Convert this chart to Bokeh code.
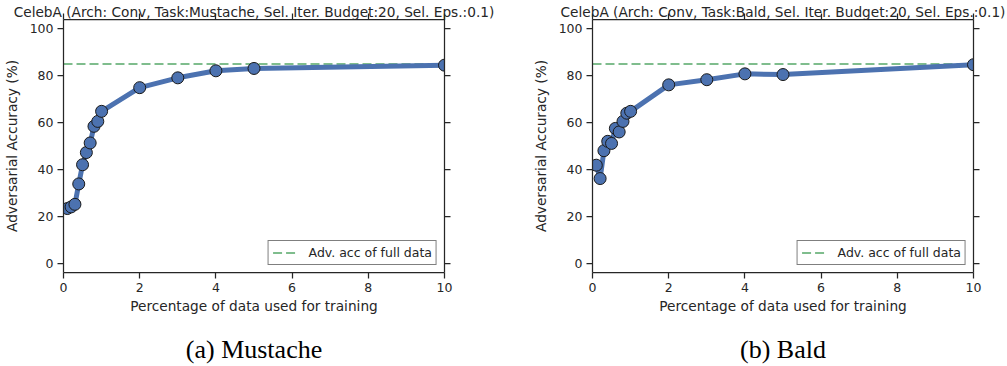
from bokeh.plotting import figure
from bokeh.layouts import row
from bokeh.models import (LinearAxis, FixedTicker, Range1d,
                          CustomLabelingPolicy)
from bokeh.embed import file_html
from bokeh.resources import INLINE

# Percentage of the training set used for each run
pct_data = [0.1, 0.2, 0.3, 0.4, 0.5, 0.6, 0.7, 0.8, 0.9, 1.0, 2, 3, 4, 5, 10]

# Adversarial accuracy (%) per attribute task
mustache_acc = [23.3, 24.0, 25.1, 33.8, 42.0, 47.2, 51.3, 58.4, 60.5, 64.8,
                74.9, 79.1, 82.1, 83.1, 84.5]
bald_acc = [41.8, 36.1, 48.0, 52.0, 51.1, 57.5, 56.0, 60.5, 64.0, 64.8,
            76.1, 78.3, 80.8, 80.5, 84.7]

# Adversarial accuracy when training on the full data set
mustache_full_acc = 85.0
bald_full_acc = 85.0

x_limits = [0, 10]
y_limits = [-4, 104]
x_ticks = [0, 2, 4, 6, 8, 10]
y_ticks = [0, 20, 40, 60, 80, 100]

panel_titles = [
    "CelebA (Arch: Conv, Task:Mustache, Sel. Iter. Budget:20, Sel. Eps.:0.1)",
    "CelebA (Arch: Conv, Task:Bald, Sel. Iter. Budget:20, Sel. Eps.:0.1)",
]
captions = ["(a) Mustache", "(b) Bald"]
legend_text = "Adv. acc of full data"
x_label = "Percentage of data used for training"
y_label = "Adversarial Accuracy (%)"

INK = "#262626"
BLUE = "#4C72B0"
GREEN = "#55A868"
FONT = "DejaVu Sans"

FIG_H = 366
FRAME_W = 381
BORDER_TOP = 19
BORDER_BOTTOM = 93

NO_LABELS = "return new Set()"


def style_axis(ax, ticks, show_labels):
    ax.ticker = FixedTicker(ticks=ticks)
    ax.minor_tick_line_color = None
    ax.major_tick_in = 0
    ax.major_tick_out = 6
    ax.axis_line_color = INK
    ax.axis_line_width = 1.25
    ax.major_tick_line_color = INK
    ax.major_tick_line_width = 1.25
    ax.major_label_text_font = FONT
    ax.major_label_text_color = INK
    ax.major_label_text_font_size = "12.5px"
    ax.major_label_standoff = 4
    if not show_labels:
        # tick marks only, no numbers on the mirrored axes
        ax.major_label_policy = CustomLabelingPolicy(code=NO_LABELS)
        ax.major_label_text_font_size = "0px"
        ax.major_label_standoff = 0
    ax.axis_label_text_font = FONT
    ax.axis_label_text_font_size = "13.7px"
    ax.axis_label_text_font_style = "normal"
    ax.axis_label_text_color = INK


def make_panel(title, caption, acc, full_acc, border_left, border_right):
    width = border_left + FRAME_W + border_right
    p = figure(width=width, height=FIG_H,
               x_range=Range1d(*x_limits), y_range=Range1d(*y_limits),
               output_backend="svg", toolbar_location=None,
               x_axis_location=None, y_axis_location=None,
               min_border_left=border_left, min_border_right=border_right,
               min_border_top=BORDER_TOP, min_border_bottom=BORDER_BOTTOM)
    p.xgrid.visible = False
    p.ygrid.visible = False
    p.outline_line_color = None
    p.background_fill_color = "white"
    p.border_fill_color = "white"

    bottom = LinearAxis(axis_label=x_label)
    left = LinearAxis(axis_label=y_label)
    # the panel title sits on the mirrored top axis, over its tick marks
    top = LinearAxis(axis_label=title)
    right = LinearAxis()
    style_axis(bottom, x_ticks, True)
    style_axis(left, y_ticks, True)
    style_axis(top, x_ticks, False)
    style_axis(right, y_ticks, False)
    bottom.axis_label_standoff = 3
    left.axis_label_standoff = 7
    top.axis_label_standoff = -6

    # bare axis below the x axis that only carries the sub-figure caption
    cap_axis = LinearAxis(axis_label=caption)
    cap_axis.ticker = FixedTicker(ticks=[])
    cap_axis.axis_line_color = None
    cap_axis.major_tick_line_color = None
    cap_axis.minor_tick_line_color = None
    cap_axis.major_tick_in = 0
    cap_axis.major_tick_out = 0
    cap_axis.major_label_policy = CustomLabelingPolicy(code=NO_LABELS)
    cap_axis.major_label_text_font_size = "0px"
    cap_axis.major_label_standoff = 0
    cap_axis.axis_label_text_font = "Liberation Serif"
    cap_axis.axis_label_text_font_size = "26px"
    cap_axis.axis_label_text_font_style = "normal"
    cap_axis.axis_label_text_color = "black"
    cap_axis.axis_label_standoff = 18

    p.add_layout(bottom, "below")
    p.add_layout(cap_axis, "below")
    p.add_layout(left, "left")
    p.add_layout(top, "above")
    p.add_layout(right, "right")

    # reference level: full-data adversarial accuracy
    p.line(x=x_limits, y=[full_acc, full_acc], line_color=GREEN,
           line_width=1.5, line_dash="9 4", legend_label=legend_text)

    p.line(x=pct_data, y=acc, line_color=BLUE, line_width=5)
    p.scatter(x=pct_data, y=acc, size=12, fill_color=BLUE,
              line_color="#1a1a1a", line_width=1)

    lg = p.legend[0]
    lg.location = "bottom_right"
    lg.margin = 7
    lg.padding = 4
    lg.spacing = 0
    lg.glyph_width = 26
    lg.glyph_height = 13
    lg.label_height = 13
    lg.label_standoff = 10
    lg.label_text_font = FONT
    lg.label_text_font_size = "12.5px"
    lg.label_text_color = INK
    lg.border_line_color = "black"
    lg.border_line_width = 1
    lg.background_fill_alpha = 1.0
    return p


p1 = make_panel(panel_titles[0], captions[0], mustache_acc, mustache_full_acc,
                63, 76)
p2 = make_panel(panel_titles[1], captions[1], bald_acc, bald_full_acc,
                72, 34)

layout = row(p1, p2, spacing=0)
open("out.html", "w").write(file_html(layout, INLINE))
